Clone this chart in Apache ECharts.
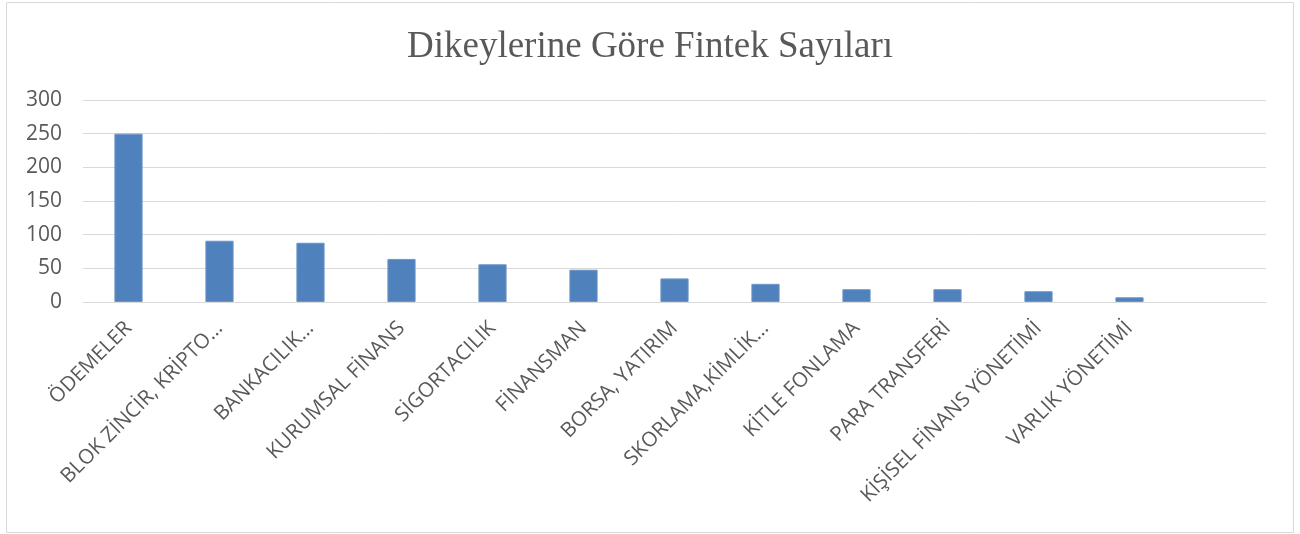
<!DOCTYPE html>
<html>
<head>
<meta charset="utf-8">
<script src="https://cdn.jsdelivr.net/npm/echarts@6/dist/echarts.min.js"></script>
<style>
  html, body { margin: 0; padding: 0; background: #fff; }
  #chart { width: 1300px; height: 534px; }
</style>
</head>
<body>
<div id="chart"></div>
<script>
// Fintech counts by vertical
const categories = [
  'ÖDEMELER',
  'BLOK ZİNCİR, KRİPTO…',
  'BANKACILIK…',
  'KURUMSAL FİNANS',
  'SİGORTACILIK',
  'FİNANSMAN',
  'BORSA, YATIRIM',
  'SKORLAMA,KİMLİK…',
  'KİTLE FONLAMA',
  'PARA TRANSFERİ',
  'KİŞİSEL FİNANS YÖNETİMİ',
  'VARLIK YÖNETİMİ',
  ''
];
const counts = [250, 91, 88, 64, 56, 48, 35, 27, 19, 19, 16, 7, null];
const yTicks = [0, 50, 100, 150, 200, 250, 300];

const chart = echarts.init(document.getElementById('chart'), null, { renderer: 'canvas' });

chart.setOption({
  backgroundColor: '#ffffff',
  animation: false,
  title: {
    text: 'Dikeylerine Göre Fintek Sayıları',
    left: 'center',
    top: 24,
    textStyle: {
      fontFamily: 'Liberation Serif',
      fontSize: 37,
      fontWeight: 'normal',
      color: '#595959'
    }
  },
  graphic: [{
    type: 'rect',
    shape: { x: 6.5, y: 2.5, width: 1287, height: 530 },
    style: { fill: 'none', stroke: '#d9d9d9', lineWidth: 1 },
    silent: true
  }],
  grid: { left: 83, right: 34, top: 100, bottom: 232, containLabel: false },
  xAxis: {
    type: 'category',
    data: categories,
    axisLine: { show: true, lineStyle: { color: '#d9d9d9', width: 1 } },
    axisTick: { show: false },
    axisLabel: {
      interval: 0,
      rotate: 45,
      margin: 23,
      fontFamily: 'Open Sans',
      fontSize: 20.5,
      color: '#595959'
    }
  },
  yAxis: {
    type: 'value',
    min: yTicks[0],
    max: yTicks[yTicks.length - 1],
    interval: 50,
    axisLine: { show: false },
    axisTick: { show: false },
    splitLine: { lineStyle: { color: '#d9d9d9', width: 1 } },
    axisLabel: {
      margin: 21,
      fontFamily: 'Open Sans',
      fontSize: 21,
      color: '#595959'
    }
  },
  series: [{
    type: 'bar',
    data: counts,
    barWidth: '31%',
    itemStyle: { color: '#4f81bd', borderColor: '#6c96c9', borderWidth: 1 }
  }]
});
</script>
</body>
</html>
